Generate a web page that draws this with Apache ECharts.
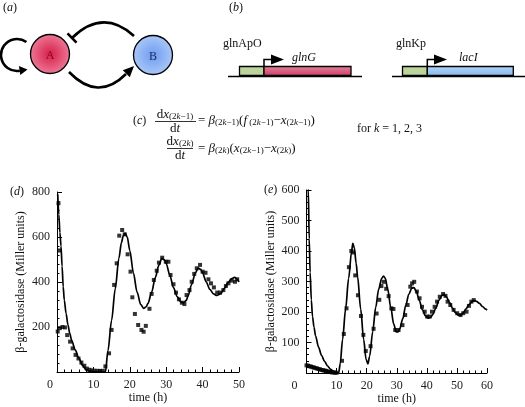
<!DOCTYPE html>
<html>
<head>
<meta charset="utf-8">
<script src="https://cdn.jsdelivr.net/npm/echarts@6/dist/echarts.min.js"></script>
<style>html,body{margin:0;padding:0;background:#fff;}#c{width:525px;height:407px;}</style>
</head>
<body>
<div id="c"></div>
<script>
// ---- Panel (d): model curve and measured points [time (h), beta-galactosidase] ----
const dCurve = [[0.2,790],[0.5,700],[0.8,620],[1.1,560],[1.4,470],[1.7,380],[2.0,320],[2.5,260],[3,210],[3.5,172],[4,142],[5,98],[6,62],[7,30],[8,10],[9,3],[10,1],[11,0],[12,0],[13,0],[13.3,0],[14,95],[15,230],[16,370],[17,505],[17.7,575],[18.2,605],[18.7,616],[19.3,600],[20,540],[21,440],[22,355],[23,300],[23.8,283],[24.5,290],[25,305],[26,355],[27,420],[28,475],[28.8,505],[29.5,498],[30,482],[31,430],[32,375],[33,335],[34,312],[34.8,308],[35.5,318],[36,338],[37,390],[38,440],[38.8,462],[39.5,456],[40,440],[41,400],[42,367],[43,347],[43.9,340],[45,348],[46,372],[47,398],[48,415],[48.8,421],[49.5,412],[50,400]];
const dPoints = [[0.2,180],[0.4,750],[0.6,540],[0.8,195],[1.5,200],[2.2,198],[2.8,164],[3.6,135],[4.3,105],[5.1,76],[5.9,60],[6.7,42],[7.5,28],[8.2,15],[8.9,10],[9.6,7],[10.3,6],[11.1,5],[11.8,5],[12.6,5],[13.3,25],[14.3,83],[15.0,187],[15.7,387],[16.4,483],[17.1,606],[17.9,631],[18.6,612],[19.4,523],[20.2,446],[20.7,332],[21.4,258],[22.3,209],[23.2,187],[23.8,179],[24.4,205],[25.4,281],[26.0,347],[26.6,409],[27.4,450],[28.0,486],[28.9,508],[29.9,490],[30.6,490],[31.2,431],[32.0,390],[32.7,353],[33.5,323],[34.3,308],[35.0,302],[35.6,342],[36.4,364],[37.0,401],[37.7,436],[38.4,461],[39.3,476],[40.0,446],[40.8,441],[41.6,412],[42.3,394],[43.1,376],[44.0,353],[44.8,353],[45.7,364],[46.4,382],[47.1,394],[48.0,406],[48.9,401],[49.5,412]];

// ---- Panel (e) ----
const eCurve = [[0.3,700],[0.6,600],[0.9,440],[1.2,330],[1.6,240],[2,185],[2.5,150],[3,122],[4,85],[5,58],[6,38],[7,23],[8,12],[9,5],[10,1],[10.7,0],[11.2,30],[12,110],[13,210],[14,310],[15,400],[15.4,425],[15.9,410],[16.5,360],[17,315],[18,210],[19,110],[19.8,45],[20.4,30],[21,55],[22,135],[23,215],[24,275],[25,310],[25.6,318],[26.2,310],[27,275],[28,215],[29,160],[29.8,135],[30.5,135],[31,145],[32,178],[33,222],[34,258],[35,278],[35.7,280],[36.5,268],[37.5,238],[38.5,208],[39.5,188],[40.5,180],[41.2,182],[42,192],[43,213],[44,238],[45,254],[45.6,257],[46.5,250],[47.5,232],[48.5,213],[49.5,198],[50.5,190],[51.2,190],[52,196],[53,210],[54,224],[55,234],[55.8,237],[56.5,235],[57.5,228],[58.5,218],[59.5,210],[60,206]];
const ePoints = [[0,25],[0.5,24],[1,22],[1.5,21],[2,19],[2.5,18],[3,16],[3.5,15],[4,13],[4.5,12],[5,10],[5.5,9],[6,8],[6.5,7],[7,5],[7.5,4],[8,3],[8.5,2],[9,2],[9.5,1],[10,1],[11.8,40],[12.4,128],[13.3,212],[14.1,347],[14.9,400],[15.5,395],[16.2,320],[17.1,255],[18.1,187],[18.9,125],[19.7,72],[21.3,88],[22.3,145],[23.3,195],[24.2,240],[24.9,285],[25.7,299],[26.5,276],[27.3,252],[28.2,212],[28.9,210],[29.5,141],[30.6,141],[31.9,157],[32.8,190],[33.6,223],[34.5,283],[35.1,294],[35.8,299],[36.7,267],[37.6,245],[38.4,217],[39.3,201],[40.1,185],[40.9,185],[41.7,201],[42.6,217],[43.4,234],[44.3,250],[45.4,259],[46.2,253],[46.9,234],[47.8,223],[48.9,207],[50.1,196],[51.2,190],[52.1,196],[53.2,201],[54,220],[54.8,234],[55.6,239]];

// axis ranges / tick steps
const dX = {min:0, max:50, step:10};
const dY = {min:0, max:800, step:200};
const eX = {min:0, max:60, step:10};
const eY = {min:0, max:600, step:100};
const xName = 'time (h)';
const yName = 'β-galactosidase (Miller units)';

const F = 'Liberation Serif';
const INK = '#111';
function mkRich(big, small) {
  return {
    n: {fontSize:big, fontFamily:F, fill:INK, color:INK},
    i: {fontSize:big, fontFamily:F, fontStyle:'italic', fill:INK, color:INK},
    s: {fontSize:small, fontFamily:F, lineHeight:small, verticalAlign:'bottom', fill:INK, color:INK},
    si: {fontSize:small, fontFamily:F, fontStyle:'italic', lineHeight:small, verticalAlign:'bottom', fill:INK, color:INK}
  };
}
const rich = mkRich(12, 8);
const eqRich = mkRich(13, 9);
function T(x, y, text, align, r) {
  return {type:'text', x:x, y:y, style:{text:text, rich:r||rich, font:'12px "'+F+'"', fill:INK, align:align||'left', verticalAlign:'middle'}};
}
function L(x1,y1,x2,y2,w) {
  return {type:'line', shape:{x1:x1,y1:y1,x2:x2,y2:y2}, style:{stroke:'#000', lineWidth:w||1}};
}
function P(pts, fill) {
  return {type:'polygon', shape:{points:pts}, style:{fill:fill||'#000'}};
}

const graphics = [
  // (a)
  T(3, 8, '{n|(}{i|a}{n|)}'),
  {type:'circle', shape:{cx:50, cy:54, r:19.5}, style:{fill:{type:'radial', x:0.5, y:0.5, r:0.5, colorStops:[{offset:0,color:'#d81e48'},{offset:1,color:'#ec7896'}]}, stroke:'#000', lineWidth:1.3}},
  {type:'circle', shape:{cx:153, cy:55, r:19.5}, style:{fill:{type:'radial', x:0.5, y:0.5, r:0.5, colorStops:[{offset:0,color:'#6f9cf0'},{offset:1,color:'#a9c8f8'}]}, stroke:'#000', lineWidth:1.3}},
  {type:'text', x:50, y:56, style:{text:'A', font:'12px "'+F+'"', fill:'#7a0a22', align:'center', verticalAlign:'middle'}},
  {type:'text', x:153, y:57, style:{text:'B', font:'12px "'+F+'"', fill:'#1c2c66', align:'center', verticalAlign:'middle'}},
  {type:'arc', shape:{cx:17, cy:55, r:16, startAngle:-54*Math.PI/180, endAngle:80*Math.PI/180, clockwise:false}, style:{stroke:'#000', lineWidth:2.6, fill:null}},
  P([[27.5,69.5],[20.3,75],[18.9,66]]),
  {type:'bezierCurve', shape:{x1:134, y1:36, cpx1:103, cpy1:8, x2:72, y2:38}, style:{stroke:'#000', lineWidth:2.6, fill:null}},
  L(67.5,33.4,76.5,42.6,2.6),
  {type:'bezierCurve', shape:{x1:69, y1:72, cpx1:98, cpy1:102, x2:126, y2:74}, style:{stroke:'#000', lineWidth:2.6, fill:null}},
  P([[134,66],[129.8,77.2],[122.8,70.2]]),

  // (b)
  T(229, 8, '{n|(}{i|b}{n|)}'),
  L(228,76.5,362,76.5,1.6),
  {type:'rect', shape:{x:239.5, y:66.5, width:24.5, height:9}, style:{fill:'#bcd49c', stroke:'#000', lineWidth:1.3}},
  {type:'rect', shape:{x:264, y:66.5, width:87, height:9}, style:{fill:{type:'linear', x:0, y:0, x2:0, y2:1, colorStops:[{offset:0,color:'#e8849e'},{offset:1,color:'#cc3a64'}]}, stroke:'#000', lineWidth:1.3}},
  {type:'polyline', shape:{points:[[264,66.5],[264,59.5],[272,59.5]]}, style:{stroke:'#000', lineWidth:1.5, fill:null}},
  P([[271,54.5],[284,59.5],[271,64.5]]),
  T(223, 44, '{n|glnApO}'),
  T(292, 58, '{i|glnG}'),
  L(392,76.5,525,76.5,1.6),
  {type:'rect', shape:{x:402.5, y:66.5, width:24.8, height:9}, style:{fill:'#bcd49c', stroke:'#000', lineWidth:1.3}},
  {type:'rect', shape:{x:427.3, y:66.5, width:86, height:9}, style:{fill:{type:'linear', x:0, y:0, x2:0, y2:1, colorStops:[{offset:0,color:'#b2d6f6'},{offset:1,color:'#86b6ee'}]}, stroke:'#000', lineWidth:1.3}},
  {type:'polyline', shape:{points:[[427.3,66.5],[427.3,59.5],[435,59.5]]}, style:{stroke:'#000', lineWidth:1.5, fill:null}},
  P([[434,54.5],[447,59.5],[434,64.5]]),
  T(396, 44, '{n|glnKp}'),
  T(459, 58, '{i|lacI}'),

  // (c)
  T(133, 121, '{n|(}{i|c}{n|)}'),
  T(175, 114.5, '{n|d}{i|x}{s|(2}{si|k}{s|−1)}', 'center', eqRich),
  L(155,121.5,196,121.5,0.8),
  T(175, 128.5, '{n|d}{i|t}', 'center', eqRich),
  T(198, 120.5, '{n|= }{i|β}{s|(2}{si|k}{s|−1)}{n|(}{i|f}{s| (2}{si|k}{s|−1)}{n|−}{i|x}{s|(2}{si|k}{s|−1)}{n|)}', 'left', eqRich),
  T(180, 142, '{n|d}{i|x}{s|(2}{si|k}{s|)}', 'center', eqRich),
  L(167,148.5,193,148.5,0.8),
  T(180, 155.5, '{n|d}{i|t}', 'center', eqRich),
  T(198, 148.5, '{n|= }{i|β}{s|(2}{si|k}{s|)}{n|(}{i|x}{s|(2}{si|k}{s|−1)}{n|−}{i|x}{s|(2}{si|k}{s|)}{n|)}', 'left', eqRich),
  T(357, 129, '{n|for }{i|k}{n| = 1, 2, 3}'),

  // (d), (e) panel letters
  T(10, 192, '{n|(}{i|d}{n|)}'),
  T(264, 190, '{n|(}{i|e}{n|)}')
];

function xAxis(idx, r, zeroPad) {
  return {
    type:'value', gridIndex:idx, min:r.min, max:r.max, interval:r.step,
    name:xName, nameLocation:'middle', nameGap:18,
    nameTextStyle:{fontFamily:F, fontSize:12, color:INK},
    axisLine:{show:true, onZero:false, lineStyle:{color:'#000', width:1}},
    axisTick:{show:true, inside:true, length:5, lineStyle:{color:'#000'}},
    minorTick:{show:true, splitNumber:5, length:2.5, lineStyle:{color:'#000'}},
    splitLine:{show:false}, minorSplitLine:{show:false},
    axisLabel:{fontFamily:F, fontSize:12, color:'#222', margin:7, alignMinLabel:'right',
      formatter:function(v){ return v===0 ? '{z|0}' : String(v); },
      rich:{z:{fontFamily:F, fontSize:12, color:'#222', padding:[0,zeroPad,0,0]}}}
  };
}
function yAxis(idx, r, gap) {
  return {
    type:'value', gridIndex:idx, min:r.min, max:r.max, interval:r.step,
    name:yName, nameLocation:'middle', nameGap:gap,
    nameTextStyle:{fontFamily:F, fontSize:12, color:INK},
    axisLine:{show:true, onZero:false, lineStyle:{color:'#000', width:1}},
    axisTick:{show:true, inside:true, length:5, lineStyle:{color:'#000'}},
    minorTick:{show:true, splitNumber:5, length:2.5, lineStyle:{color:'#000'}},
    splitLine:{show:false}, minorSplitLine:{show:false},
    axisLabel:{fontFamily:F, fontSize:12, color:'#222', margin:7, showMinLabel:false}
  };
}

const chart = echarts.init(document.getElementById('c'), null, {renderer:'canvas'});
chart.setOption({
  animation:false,
  backgroundColor:'#fff',
  grid:[
    {left:57, top:192, width:182, height:180},
    {left:306.5, top:190, width:180.5, height:183}
  ],
  xAxis:[xAxis(0,dX,4), xAxis(1,eX,9)],
  yAxis:[yAxis(0,dY,30), yAxis(1,eY,30)],
  graphic:{elements:graphics},
  series:[
    {type:'line', xAxisIndex:0, yAxisIndex:0, data:dCurve, showSymbol:false, smooth:0.3, smoothMonotone:'x', clip:true, lineStyle:{color:'#000', width:1.7}},
    {type:'scatter', xAxisIndex:0, yAxisIndex:0, data:dPoints, symbol:'rect', symbolSize:4, itemStyle:{color:'#000'}},
    {type:'line', xAxisIndex:1, yAxisIndex:1, data:eCurve, showSymbol:false, smooth:0.3, smoothMonotone:'x', clip:true, lineStyle:{color:'#000', width:1.7}},
    {type:'scatter', xAxisIndex:1, yAxisIndex:1, data:ePoints, symbol:'rect', symbolSize:4, itemStyle:{color:'#000'}}
  ]
});
</script>
</body>
</html>
